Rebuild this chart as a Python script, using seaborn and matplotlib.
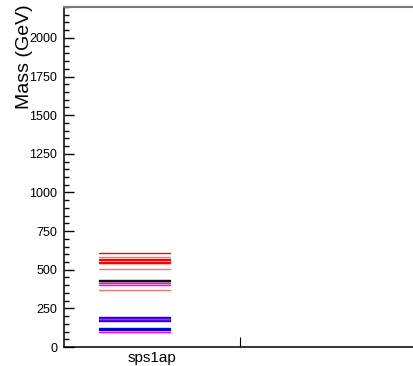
import matplotlib
matplotlib.use("Agg")
import matplotlib.pyplot as plt
import seaborn as sns
import pandas as pd

# SPS1a' benchmark spectrum (GeV)
particles = ["gluino", "uL", "dL", "uR", "dR", "t2", "b2", "b1", "t1",
             "Hpm", "A0", "H0", "h0",
             "chi40", "chi2p", "chi30", "chi20", "chi1p", "chi10",
             "eL", "tau2", "snue", "snutau", "eR", "tau1"]
masses = [607, 565, 570, 548, 546, 585, 546, 506, 366.5,
          432, 424, 425, 116,
          413.9, 415.4, 400.5, 183.9, 183.7, 97.7,
          189.9, 194.9, 172.5, 170.5, 125.3, 107.9]
groups = ["squark"] * 5 + ["stop/sbottom"] * 4 + ["higgs"] * 4 + \
         ["gaugino"] * 6 + ["slepton"] * 6
model = "sps1ap"
x_left, x_right = 0.2, 0.6

palette = {"squark": "#ff0000", "stop/sbottom": "#ff7070",
           "higgs": "#111111", "gaugino": "#ff00ff", "slepton": "#0000ff"}

rows = []
for name, m, g in zip(particles, masses, groups):
    rows.append({"particle": name, "x": x_left, "mass": m, "group": g})
    rows.append({"particle": name, "x": x_right, "mass": m, "group": g})
df = pd.DataFrame(rows)

sns.set_style("ticks")
plt.rcParams["font.family"] = ["Liberation Sans", "DejaVu Sans"]

fig = plt.figure(figsize=(4.14, 3.66), dpi=100)
ax = fig.add_axes([64 / 414, 19 / 366, 352 / 414, 340 / 366])

order = ["stop/sbottom", "squark", "slepton", "gaugino", "higgs"]
sns.lineplot(data=df, x="x", y="mass", hue="group", units="particle",
             estimator=None, palette=palette, hue_order=order,
             linewidth=1.0, legend=False, ax=ax)

ax.set_xlim(0, 2)
ax.set_ylim(0, 2200)
ax.set_xlabel("")
ax.set_ylabel("")

ax.set_yticks(range(0, 2001, 250))
ax.set_yticks(range(0, 2201, 50), minor=True)
ax.tick_params(axis="y", which="major", direction="in", length=7, width=1,
               labelsize=9, pad=5, colors="black")
ax.tick_params(axis="y", which="minor", direction="in", length=3.5, width=1,
               colors="black")

ax.set_xticks([1])
ax.set_xticklabels([""])
ax.set_xticks([0.5], minor=True)
ax.set_xticklabels([model], minor=True)
ax.tick_params(axis="x", which="major", direction="in", length=7, width=0.8,
               colors="black")
ax.tick_params(axis="x", which="minor", length=0, labelsize=11, pad=3,
               colors="black")

for side in ["left", "bottom"]:
    ax.spines[side].set_color("black")
    ax.spines[side].set_linewidth(1.1)
ax.spines["top"].set_color("#777777")
ax.spines["top"].set_linewidth(1.5)
ax.spines["right"].set_visible(False)

fig.text(25 / 414, 1 - 4 / 366, "Mass (GeV)", rotation=90, ha="center",
         va="top", fontsize=14, color="black")

fig.savefig("out.png", dpi=100)
